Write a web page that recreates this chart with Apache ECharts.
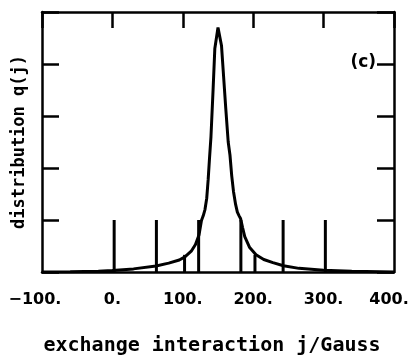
<!DOCTYPE html>
<html>
<head>
<meta charset="utf-8">
<script src="https://cdn.jsdelivr.net/npm/echarts@6/dist/echarts.min.js"></script>
<style>
  html, body { margin: 0; padding: 0; background: #fff; }
  #chart { width: 412px; height: 361px; }
</style>
</head>
<body>
<div id="chart"></div>
<script>
// distribution q(j) 曲线
var curveX = [-100, -60, -20, 0, 30, 62, 80, 95, 103, 112, 118, 123, 126.5, 129, 131.5, 134, 136, 138, 140, 143, 145.5, 150,
              155, 158, 161, 164.5, 167, 169.5, 172, 175, 177.5, 180, 182, 185, 188, 195, 204, 215, 228, 243, 265, 300, 340, 400];
var curveY = [0.0, 0.005, 0.015, 0.03, 0.06, 0.115, 0.17, 0.23, 0.29, 0.40, 0.53, 0.71, 0.99, 1.08, 1.2, 1.42, 1.77, 2.2, 2.6, 3.5, 4.3, 4.7,
              4.35, 3.75, 3.15, 2.5, 2.25, 1.85, 1.55, 1.3, 1.15, 1.08, 1.03, 0.85, 0.68, 0.47, 0.33, 0.24, 0.18, 0.12, 0.07, 0.035, 0.015, 0.0];

// 竖线 (j 取样位置)
var stickX = [2.5, 62.5, 102.5, 122.5, 182.5, 202.5, 242.5, 302.5];
var stickY = [1, 1, 0.33, 1, 1, 0.33, 1, 1];

var xTicks = [-100, 0, 100, 200, 300, 400];
var panelTag = '(c)';

var chart = echarts.init(document.getElementById('chart'));

var curveData = curveX.map(function (x, i) { return [x, curveY[i]]; });
var stickData = stickX.map(function (x, i) { return [x, stickY[i]]; });

var lineW = 2.5;
var axisBase = {
    type: 'value',
    min: xTicks[0],
    max: xTicks[xTicks.length - 1],
    interval: 100,
    splitLine: {show: false},
    axisLine: {onZero: false, lineStyle: {color: '#000', width: lineW}}
};

var option = {
    backgroundColor: '#fff',
    animation: false,
    grid: {left: 42, right: 18, top: 12, bottom: 89},
    xAxis: [
        Object.assign({}, axisBase, {
            position: 'bottom',
            axisTick: {show: false},
            axisLabel: {
                margin: 20,
                color: '#000',
                fontFamily: 'DejaVu Sans',
                fontWeight: 'bold',
                fontSize: 16,
                formatter: function (v) {
                    if (v < 0) return '{m|\u2212' + Math.abs(v) + '.}';
                    if (v === xTicks[xTicks.length - 1]) return '{e|' + v + '.}';
                    return v + '.';
                },
                rich: {
                    m: {fontFamily: 'DejaVu Sans', fontWeight: 'bold', fontSize: 16, color: '#000', padding: [0, 14, 0, 0]},
                    e: {fontFamily: 'DejaVu Sans', fontWeight: 'bold', fontSize: 16, color: '#000', padding: [0, 10, 0, 0]}
                }
            },
            name: 'exchange interaction j/Gauss',
            nameLocation: 'middle',
            nameGap: 64,
            nameTextStyle: {
                color: '#000',
                fontFamily: 'DejaVu Sans Mono',
                fontWeight: 'bold',
                fontSize: 20,
                padding: [0, 12, 0, 0]
            }
        }),
        Object.assign({}, axisBase, {
            position: 'top',
            axisTick: {inside: true, length: 16, lineStyle: {color: '#000', width: lineW}},
            axisLabel: {show: false}
        })
    ],
    yAxis: [
        {
            type: 'value', min: 0, max: 5, interval: 1, position: 'left',
            splitLine: {show: false},
            axisLine: {onZero: false, lineStyle: {color: '#000', width: lineW}},
            axisTick: {inside: true, length: 17, lineStyle: {color: '#000', width: lineW}},
            axisLabel: {show: false},
            name: 'distribution q(j)',
            nameLocation: 'middle',
            nameGap: 14,
            nameTextStyle: {
                color: '#000',
                fontFamily: 'DejaVu Sans Mono',
                fontWeight: 'bold',
                fontSize: 17
            }
        },
        {
            type: 'value', min: 0, max: 5, interval: 1, position: 'right',
            splitLine: {show: false},
            axisLine: {onZero: false, lineStyle: {color: '#000', width: lineW}},
            axisTick: {inside: true, length: 17, lineStyle: {color: '#000', width: lineW}},
            axisLabel: {show: false}
        }
    ],
    graphic: [{
        type: 'text',
        right: 36,
        top: 54,
        style: {
            text: panelTag,
            fill: '#000',
            font: 'bold 17px "DejaVu Sans"'
        }
    }],
    series: [
        {
            name: 'sticks',
            type: 'bar',
            xAxisIndex: 0,
            yAxisIndex: 0,
            barWidth: 3,
            itemStyle: {color: '#000'},
            data: stickData
        },
        {
            name: 'q(j)',
            type: 'line',
            xAxisIndex: 0,
            yAxisIndex: 0,
            showSymbol: false,
            symbol: 'none',
            lineStyle: {color: '#000', width: 3},
            data: curveData
        }
    ]
};

chart.setOption(option);
window.addEventListener('resize', function () {
    chart.resize();
});
</script>
</body>
</html>
